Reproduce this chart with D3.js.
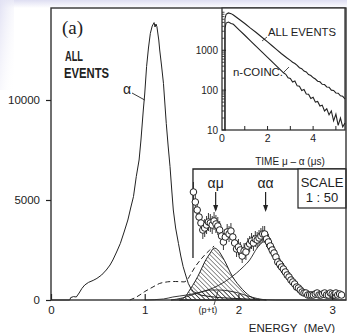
<!DOCTYPE html>
<html>
<head>
<meta charset="utf-8">
<script src="https://cdn.jsdelivr.net/npm/d3@7"></script>
<style>
body { margin: 0; background: #fff; }
svg { display: block; font-family: "Liberation Sans", Arial, sans-serif; }
</style>
</head>
<body>
<svg id="chart" width="347" height="333"></svg>
<script>
// all-events energy spectrum (MeV, counts)
const specE = [0, 0.20, 0.21, 0.24, 0.27, 0.30, 0.33, 0.36, 0.40, 0.45, 0.49, 0.54, 0.59, 0.63, 0.66, 0.70, 0.74, 0.78, 0.82, 0.85,
  0.88, 0.91, 0.94, 0.96, 0.985, 1.00, 1.02, 1.04, 1.06, 1.08, 1.10, 1.11, 1.12, 1.13, 1.15, 1.16, 1.18, 1.20, 1.23, 1.25,
  1.27, 1.29, 1.305, 1.33, 1.36, 1.385, 1.41, 1.44, 1.465, 1.49, 1.52, 1.56, 1.59, 1.70, 1.80, 1.90, 2.00, 2.10, 2.20, 2.30, 2.40, 3.15];
const specN = [0, 0, 120, 170, 150, 350, 580, 750, 880, 980, 1080, 1250, 1500, 1750, 2000, 2400, 2830, 3400, 4000, 4600,
  5170, 6170, 7000, 8000, 9500, 10300, 11670, 12600, 13330, 13700, 13870, 13650, 13800, 13670, 13000, 12500, 11700, 10830, 8830, 7700,
  6670, 5400, 4500, 3600, 2830, 2200, 1670, 1200, 830, 600, 420, 320, 250, 170, 120, 90, 70, 50, 30, 10, 0, 0];

// dashed fit line, in main-axis counts
const dashE = [0.84, 0.90, 0.95, 1.00, 1.06, 1.11, 1.16, 1.22, 1.27, 1.33, 1.38, 1.42, 1.46, 1.49, 1.54, 1.59, 1.64, 1.69, 1.74];
const dashN = [0, 120, 260, 420, 580, 710, 830, 890, 920, 925, 915, 905, 1050, 1280, 1670, 1980, 2250, 2480, 2700];

// scaled (1:50) region: data points, errors
const boxE0 = 1.52, boxStep = 0.02;
const boxN = [108, 98, 90, 83, 77, 70, 72, 75, 78, 77, 75, 79, 76, 74, 70, 64, 58, 63, 68, 66,
  69, 63, 57, 51, 53, 50, 44, 49, 48, 54, 56, 59, 57, 61, 60, 62, 64, 66, 66, 61,
  58, 54, 50, 47, 43, 38, 36, 33, 31, 28, 25, 23, 20, 18, 16, 13, 12, 10, 8, 7,
  7, 5, 5, 5, 5, 6, 7, 5, 5, 6, 7, 5, 5, 7, 6, 5, 7, 5, 6, 5];
const boxErr = [10, 10, 9, 9, 9, 9, 9, 9, 9, 9, 9, 9, 9, 9, 9, 8, 8, 8, 8, 8,
  8, 8, 8, 8, 8, 8, 7, 8, 8, 8, 8, 8, 8, 8, 8, 8, 8, 8, 8, 8,
  8, 8, 7, 7, 7, 6, 6, 6, 6, 6, 5, 5, 5, 5, 4, 4, 4, 4, 3, 3,
  3, 3, 3, 3, 3, 3, 3, 3, 3, 3, 3, 3, 3, 3, 3, 3, 3, 3, 3, 3];

// fit components (scaled counts)
const amE = [1.37, 1.43, 1.48, 1.54, 1.59, 1.64, 1.70, 1.74, 1.78, 1.83, 1.87, 1.91, 1.96, 2.02, 2.07, 2.12, 2.18, 2.23];
const amN = [0, 3, 10, 19, 28, 38, 47, 52, 50, 43, 36, 28, 20, 13, 8, 4, 1, 0];
const ptE = [1.28, 1.40, 1.50, 1.60, 1.70, 1.80, 1.90, 2.00, 2.10, 2.20, 2.30];
const ptN = [0, 2, 5, 8, 10, 10, 9, 7, 4, 1.5, 0];
const aaE = [1.00, 1.20, 1.30, 1.45, 1.60, 1.73, 1.85, 1.98, 2.05, 2.12, 2.20, 2.27, 2.34, 2.44, 2.51, 2.58, 2.67, 2.76, 2.90, 3.05];
const aaN = [0, 1, 3, 5, 8, 12, 18, 27, 33, 40, 52, 58, 55, 40, 30, 20, 12, 7, 3, 1];

// inset: time spectra (µs, counts)
const allT = [0.13, 0.18, 0.28, 0.4, 0.5, 0.75, 1.0, 1.25, 1.5, 1.82, 2.0, 2.2, 2.4, 2.6, 2.84, 3.0, 3.1, 3.2, 3.3, 3.4,
  3.5, 3.6, 3.7, 3.8, 3.9, 4.01, 4.1, 4.2, 4.3, 4.4, 4.5, 4.6, 4.7, 4.8, 4.9, 5.0, 5.1, 5.2, 5.3, 5.4];
const allN = [6200, 8000, 8650, 8300, 7700, 6000, 4700, 3600, 2800, 1980, 1620, 1300, 1040, 830, 650, 560, 500, 465, 420, 365,
  345, 300, 285, 245, 232, 204, 190, 168, 162, 140, 138, 120, 118, 100, 98, 85, 84, 72, 70, 60];
const coinT = [0.13, 0.18, 0.28, 0.4, 0.5, 0.75, 1.0, 1.25, 1.5, 1.75, 2.0, 2.25, 2.5, 2.7, 2.8, 2.9, 3.0, 3.1, 3.2, 3.3,
  3.4, 3.5, 3.6, 3.7, 3.8, 3.9, 4.0, 4.1, 4.2, 4.3, 4.4, 4.5, 4.6, 4.7, 4.8, 4.9, 5.0, 5.1, 5.2, 5.3, 5.4];
const coinN = [3600, 4800, 5100, 4700, 4500, 3270, 2380, 1730, 1260, 914, 664, 483, 351, 272, 250, 205, 196, 160, 170, 128,
  125, 98, 104, 80, 79, 62, 66, 50, 52, 40, 42, 30, 34, 24, 30, 17, 25, 13, 20, 12, 15];

const yTicks = [0, 5000, 10000];
const xTicks = [0, 1, 2, 3];
const insetYTicks = [10, 100, 1000];
const insetXTicks = [0, 2, 4];

const svg = d3.select("#chart");
const ink = "#222";

const defs = svg.append("defs");
const topFade = defs.append("linearGradient").attr("id", "topFade").attr("x1", 0).attr("y1", 0).attr("x2", 0).attr("y2", 1);
topFade.append("stop").attr("offset", 0).attr("stop-color", "#dedef2");
topFade.append("stop").attr("offset", 1).attr("stop-color", "#fff");
const leftFade = defs.append("linearGradient").attr("id", "leftFade").attr("x1", 0).attr("y1", 0).attr("x2", 1).attr("y2", 1);
leftFade.append("stop").attr("offset", 0).attr("stop-color", "#e2e2f4");
leftFade.append("stop").attr("offset", 1).attr("stop-color", "#fff").attr("stop-opacity", 0);
defs.append("pattern").attr("id", "hatch").attr("patternUnits", "userSpaceOnUse")
  .attr("width", 3.2).attr("height", 3.2).attr("patternTransform", "rotate(-45)")
  .append("line").attr("x1", 0).attr("y1", 0).attr("x2", 0).attr("y2", 3.2)
  .attr("stroke", ink).attr("stroke-width", 1);

svg.append("rect").attr("x", 0).attr("y", 0).attr("width", 347).attr("height", 8).attr("fill", "url(#topFade)");
svg.append("rect").attr("x", 0).attr("y", 0).attr("width", 14).attr("height", 90).attr("fill", "url(#leftFade)");

// main scales
const x = d3.scaleLinear().domain([0, 3.15]).range([51, 346.2]);
const y = d3.scaleLinear().domain([0, 14600]).range([300, 8]);
const yb = v => y(v * 50);

const mainLine = d3.line().x(d => x(d[0])).y(d => y(d[1]));
const boxLine = d3.line().x(d => x(d[0])).y(d => yb(d[1])).curve(d3.curveMonotoneX);
const boxArea = d3.area().x(d => x(d[0])).y0(y(0)).y1(d => yb(d[1])).curve(d3.curveMonotoneX);
const zip = (a, b) => a.map((v, i) => [v, b[i]]);

// hatched components
svg.append("path").datum(zip(ptE, ptN)).attr("d", boxArea).attr("fill", "url(#hatch)").attr("stroke", ink).attr("stroke-width", 0.9);
svg.append("path").datum(zip(amE, amN)).attr("d", boxArea).attr("fill", "url(#hatch)").attr("stroke", ink).attr("stroke-width", 1);
svg.append("path").datum(zip(aaE, aaN)).attr("d", boxLine).attr("fill", "none").attr("stroke", ink).attr("stroke-width", 0.9);

// spectrum
svg.append("path").datum(zip(specE, specN)).attr("d", mainLine).attr("fill", "none").attr("stroke", ink).attr("stroke-width", 1);
svg.append("path").datum(zip(dashE, dashN)).attr("d", mainLine.curve(d3.curveMonotoneX))
  .attr("fill", "none").attr("stroke", ink).attr("stroke-width", 1).attr("stroke-dasharray", "5,3");

// scaled region outline
const bx0 = x(1.515), byTop = yb(131), byBot = yb(42);
svg.append("path").attr("d", `M${bx0},${byBot}V${byTop}H346`).attr("fill", "none").attr("stroke", ink).attr("stroke-width", 1.3);

// data points
const pts = boxN.map((n, i) => ({ e: boxE0 + i * boxStep, n: n, err: boxErr[i] }));
const pg = svg.append("g");
pg.selectAll("line").data(pts).join("line")
  .attr("x1", d => x(d.e)).attr("x2", d => x(d.e))
  .attr("y1", d => yb(d.n - d.err)).attr("y2", d => yb(d.n + d.err))
  .attr("stroke", ink).attr("stroke-width", 0.9);
pg.selectAll("circle").data(pts).join("circle")
  .attr("cx", d => x(d.e)).attr("cy", d => yb(d.n)).attr("r", 3.3)
  .attr("fill", "#fff").attr("stroke", ink).attr("stroke-width", 1);

// arrows
const arrows = [{ e: 1.757, label: "αμ" }, { e: 2.29, label: "αα" }];
arrows.forEach(a => {
  const ax = x(a.e);
  svg.append("text").attr("x", ax).attr("y", 188).attr("text-anchor", "middle")
    .attr("font-size", 14).attr("fill", ink).text(a.label);
  svg.append("line").attr("x1", ax).attr("x2", ax).attr("y1", 192).attr("y2", 210).attr("stroke", ink).attr("stroke-width", 1.2);
  svg.append("path").attr("d", `M${ax - 2.5},${205}L${ax},${212}L${ax + 2.5},${205}Z`).attr("fill", ink);
});

// scale box
svg.append("rect").attr("x", 298).attr("y", byTop).attr("width", 48).attr("height", 39)
  .attr("fill", "#fff").attr("stroke", ink).attr("stroke-width", 1.2);
svg.append("text").attr("x", 322).attr("y", 187).attr("text-anchor", "middle").attr("font-size", 13).attr("fill", ink).text("SCALE");
svg.append("text").attr("x", 322).attr("y", 202).attr("text-anchor", "middle").attr("font-size", 13).attr("fill", ink).text("1 : 50");

// (p+t) label
svg.append("text").attr("x", 208).attr("y", 313).attr("text-anchor", "middle").attr("font-size", 9).attr("fill", ink).text("(p+t)");
svg.append("line").attr("x1", 214).attr("y1", 305).attr("x2", 218).attr("y2", yb(9)).attr("stroke", ink).attr("stroke-width", 0.8);

// frame and axes
svg.append("rect").attr("x", 51).attr("y", 8).attr("width", 295).attr("height", 292)
  .attr("fill", "none").attr("stroke", "#333").attr("stroke-width", 1.4);

const yAxis = svg.append("g").attr("transform", "translate(51,0)")
  .call(d3.axisLeft(y).tickValues(yTicks).tickSize(5).tickPadding(6).tickFormat(d3.format("d")));
const xAxis = svg.append("g").attr("transform", "translate(0,300)")
  .call(d3.axisBottom(x).tickValues(xTicks).tickSizeInner(-6).tickSizeOuter(0).tickPadding(6).tickFormat(d3.format("d")));
[yAxis, xAxis].forEach(g => {
  g.select(".domain").remove();
  g.selectAll("line").attr("stroke", ink).attr("stroke-width", 1.2);
  g.selectAll("text").attr("font-size", 11.5).attr("fill", ink).attr("font-family", "Liberation Sans, Arial, sans-serif");
});

svg.append("text").attr("x", 292).attr("y", 332).attr("text-anchor", "middle").attr("font-size", 11.5).attr("fill", ink)
  .text("ENERGY\u00a0\u00a0(MeV)");

// labels in the main panel
svg.append("text").attr("x", 62).attr("y", 34).attr("font-family", "Liberation Serif, Times New Roman, serif")
  .attr("font-size", 19).attr("fill", ink).text("(a)");
svg.append("text").attr("x", 65).attr("y", 61).attr("font-size", 15.5).attr("font-weight", "bold").attr("fill", ink)
  .attr("textLength", 18).attr("lengthAdjust", "spacingAndGlyphs").text("ALL");
svg.append("text").attr("x", 64).attr("y", 78).attr("font-size", 15.5).attr("font-weight", "bold").attr("fill", ink)
  .attr("textLength", 45).attr("lengthAdjust", "spacingAndGlyphs").text("EVENTS");
svg.append("text").attr("x", 123).attr("y", 94).attr("font-size", 14).attr("fill", ink).text("α");
svg.append("line").attr("x1", 132).attr("y1", 93).attr("x2", x(1.0)).attr("y2", y(10000)).attr("stroke", ink).attr("stroke-width", 0.9);

// inset
const tx = d3.scaleLinear().domain([0, 5.4]).range([222, 345]);
const ty = d3.scaleLog().domain([10, 11500]).range([130, 8]);
const inset = svg.append("g");
inset.append("rect").attr("x", 222).attr("y", 8).attr("width", 123).attr("height", 122)
  .attr("fill", "#fff").attr("stroke", "#333").attr("stroke-width", 1.3);
const tLine = d3.line().x(d => tx(d[0])).y(d => ty(d[1]));
inset.append("path").datum([[allT[0], 10]].concat(zip(allT, allN))).attr("d", tLine)
  .attr("fill", "none").attr("stroke", ink).attr("stroke-width", 1.1);
inset.append("path").datum([[coinT[0], 10]].concat(zip(coinT, coinN))).attr("d", tLine)
  .attr("fill", "none").attr("stroke", ink).attr("stroke-width", 1.1);

const minor = [];
[10, 100, 1000].forEach(p => d3.range(2, 10).forEach(k => { if (p * k < 11500) minor.push(p * k); }));
inset.selectAll(".mn").data(minor).join("line")
  .attr("x1", 222).attr("x2", 224.5).attr("y1", d => ty(d)).attr("y2", d => ty(d))
  .attr("stroke", ink).attr("stroke-width", 0.8);
inset.selectAll(".mj").data(insetYTicks).join("line")
  .attr("x1", 222).attr("x2", 226).attr("y1", d => ty(d)).attr("y2", d => ty(d))
  .attr("stroke", ink).attr("stroke-width", 1);
inset.selectAll(".yl").data(insetYTicks).join("text")
  .attr("x", 218).attr("y", d => ty(d) + 3.5).attr("text-anchor", "end").attr("font-size", 10).attr("fill", ink).text(d => d);
inset.selectAll(".xt").data([1, 2, 3, 4, 5]).join("line")
  .attr("x1", d => tx(d)).attr("x2", d => tx(d)).attr("y1", 130).attr("y2", 126)
  .attr("stroke", ink).attr("stroke-width", 1);
inset.selectAll(".xl").data(insetXTicks).join("text")
  .attr("x", d => tx(d)).attr("y", 142).attr("text-anchor", "middle").attr("font-size", 10.5).attr("fill", ink).text(d => d);
inset.append("text").attr("x", 290).attr("y", 165).attr("text-anchor", "middle").attr("font-size", 10).attr("fill", ink)
  .text("TIME μ – α (μs)");

inset.append("text").attr("x", 268).attr("y", 36).attr("font-size", 10.5).attr("fill", ink)
  .attr("textLength", 68).attr("lengthAdjust", "spacingAndGlyphs").text("ALL EVENTS");
inset.append("line").attr("x1", 267).attr("y1", 37).attr("x2", 262).attr("y2", 41).attr("stroke", ink).attr("stroke-width", 0.8);
inset.append("text").attr("x", 233).attr("y", 76).attr("font-size", 10.5).attr("fill", ink)
  .attr("textLength", 50).attr("lengthAdjust", "spacingAndGlyphs").text("n-COINC.");
inset.append("line").attr("x1", 283).attr("y1", 73).attr("x2", 289).attr("y2", 67).attr("stroke", ink).attr("stroke-width", 0.8);
</script>
</body>
</html>
